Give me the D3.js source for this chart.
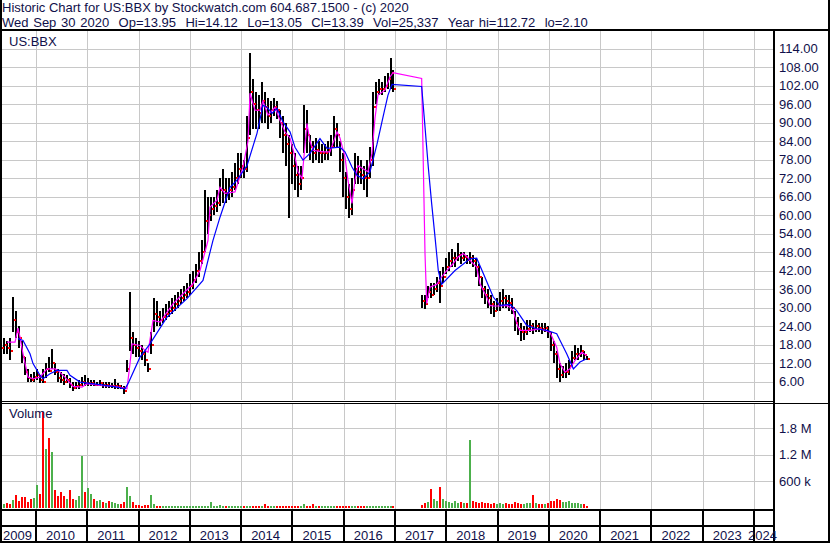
<!DOCTYPE html>
<html><head><meta charset="utf-8">
<script src="https://cdn.jsdelivr.net/npm/d3@7"></script>
<style>
body{margin:0;background:#fff}
svg{display:block}
text{font-family:"Liberation Sans",Arial,sans-serif;fill:#10104a;font-size:13px}
</style>
</head><body><svg id="c" width="830" height="543"></svg>
<script>
// ---------- DATA ----------
const headerLine1 = "Historic Chart for US:BBX by Stockwatch.com 604.687.1500 - (c) 2020";
const headerLine2 = "Wed Sep 30 2020  Op=13.95  Hi=14.12  Lo=13.05  Cl=13.39  Vol=25,337  Year hi=112.72  lo=2.10";
const symbolLabel = "US:BBX";
const volumeLabel = "Volume";

const dates = [
2009.318,2009.376,2009.435,2009.493,2009.552,2009.610,2009.669,2009.727,2009.786,2009.844,2009.903,2009.961,
2010.019,2010.078,2010.136,2010.195,2010.253,2010.312,2010.370,2010.429,2010.487,2010.546,2010.604,2010.663,2010.721,2010.780,2010.838,2010.897,2010.955,
2011.014,2011.072,2011.131,2011.189,2011.248,2011.306,2011.365,2011.423,2011.482,2011.540,2011.599,2011.657,2011.716,2011.774,2011.833,2011.891,2011.950,
2012.008,2012.067,2012.125,2012.184,2012.242,2012.301,2012.359,2012.418,2012.476,2012.535,2012.593,2012.652,2012.710,2012.769,2012.827,2012.886,2012.944,
2013.003,2013.061,2013.120,2013.178,2013.237,2013.295,2013.354,2013.412,2013.471,2013.529,2013.588,2013.646,2013.705,2013.763,2013.822,2013.880,2013.939,2013.997,
2014.056,2014.114,2014.173,2014.231,2014.290,2014.348,2014.407,2014.465,2014.524,2014.582,2014.641,2014.699,2014.758,2014.816,2014.875,2014.933,2014.992,
2015.050,2015.109,2015.167,2015.226,2015.284,2015.342,2015.401,2015.459,2015.518,2015.576,2015.635,2015.693,2015.752,2015.810,2015.869,2015.927,2015.986,
2016.044,2016.103,2016.161,2016.220,2016.278,2016.337,2016.395,2016.454,2016.512,2016.571,2016.629,2016.688,2016.746,2016.805,2016.863,2016.922,2016.961,
2017.526,2017.585,2017.643,2017.702,2017.760,2017.819,2017.877,2017.936,2017.994,
2018.053,2018.111,2018.170,2018.228,2018.287,2018.345,2018.404,2018.462,2018.521,2018.579,2018.638,2018.696,2018.755,2018.813,2018.872,2018.930,2018.989,
2019.047,2019.106,2019.164,2019.223,2019.281,2019.340,2019.398,2019.457,2019.515,2019.574,2019.632,2019.691,2019.749,2019.808,2019.866,2019.925,2019.983,
2020.042,2020.100,2020.159,2020.217,2020.276,2020.334,2020.393,2020.451,2020.510,2020.568,2020.627,2020.685,2020.743
];
const highs = [
21,20,19,20,33.5,29,24,19,14,10,8.5,9,
10,8,10,12,14,16.4,12,10,9,8.5,8,7,6,6,6.5,7.5,8,
7,6.5,6.5,6,6.5,6,6,6,5.5,6.8,5.5,5,4.5,13,35,22,20,
19,18,16,12,22,33,32,29,30,31,32,33,34,35,36,37,38,
41,42,44,48,52,68,66,66,66,68,72,75,72,72,74,77,80,80,
78,92,112.7,104,100,99,103,100,98,97,98,97,94,92,90,86,83,
80,76,76,95.6,94,86,84,85,84,83,83,84,86,92,90,84,80,
74,70,72,80,79,78,76,78,82,100,103,104,103,105,106,111,107,
34,34,37,38,38,40,42,43,46,
48,49,48,50.8,48,48,47,48,47,46,44,40,37,36,34,32,33,
35,36,34,34,33,29,27,25,24,26,26,25,26,25,25,25,24,
22,19,16,12,11,12,13,16,18,17,18,16,14.12
];
const lows = [
14,15,15,13,22,20,17,12,8,6,6,6,
6.5,5.5,5.5,7,9,10,8,6,5.5,5,5.5,4,3,3.5,3.5,4.5,4.5,
4.5,4.5,4.5,4.5,4.5,4,4,4,4,3.5,3.5,3.5,2.1,9,16,15,14,
14,13,11,9,15,22,24,24,25,26,27,28,29,30,31,32,33,
34,36,38,40,44,48,54,58,60,61,63,64,64,65,66,68,70,72,
72,74,86,88,88,88,90,90,88,90,92,91,85,80,76,59,70,
68,66,68,80,80,78,77,78,77,77,78,78,79,82,82,74,66,
62,59,60,70,70,70,68,66,72,76,96,99,99,100,101,101,100,
30,29.5,33,33,34,35,31.6,38,41,
42,43,43,45,44,45,44,44,43,40,37,33,31,30,28,27,29,
29,30,30,29,28,22.5,21,19,19.5,21,22,21.5,22,22,21.5,22,20,
16,12,7,5.8,7,7,8,11,13,13,14,13,13.05
];
const closes = [
17,18,17,16,26,22,20,14,9,7,6.5,7.5,
8,6.5,6,10,9.5,12,9,7,6.5,6,6.5,5,4,4.5,5,6,5.5,
5.5,5.5,5,5,5.5,5,5,4.5,4.5,4.5,4.5,4,3,10,20,18,17,
16,15,13,10,18,28,27,26,27,28,29,30,31,32,33,34,35,
37,39,42,45,48,58,60,62,63,64,68,68,67,68,69,72,75,76,
75,85,100,96,94,93,97,95,92,94,95,94,90,86,83,80,76,
73,70,72,88,86,82,80,81,80,80,80,81,82,88,86,78,72,
66,62,68,75,74,73,72,72,78,95,100,101,101,102,104,106,101,
32,31,35,34,36,38,37,40,43,
45,46,46,47,46,46.5,45.5,46,45,43,40,36,34,33,31,29,31,
32,33,32,31.5,30,25,23,22,22,23,24,23,24,23.5,23,23.5,22,
18,15,10,8,9,9,11,13.5,15,15,16,14.5,13.39
];
// volume in thousands of shares
const volumesK = [
60,90,110,80,180,290,150,230,230,130,190,210,
500,300,2170,1330,1570,1260,400,250,350,250,200,400,200,180,250,1160,350,
450,300,200,150,180,120,100,150,120,100,80,90,120,460,250,120,60,
50,40,60,60,290,80,40,30,30,35,30,30,30,30,30,30,30,
30,30,35,30,30,40,30,130,30,30,60,30,30,30,30,30,30,30,
30,30,40,30,30,30,30,80,30,30,30,30,30,30,30,30,30,
30,30,30,80,30,30,80,30,30,30,30,30,30,30,30,30,30,
30,30,30,40,30,30,30,30,30,30,40,30,30,30,30,30,30,
60,100,120,420,200,150,470,200,150,
120,100,150,110,120,100,110,1530,150,130,100,120,100,100,90,110,80,
100,90,100,90,80,120,100,90,80,100,110,290,100,90,80,90,100,
140,150,200,180,130,120,140,110,100,100,90,80,25
];

// short moving average (magenta)
const maFastDates = [2009.435,2009.591,2009.649,2009.688,2009.747,2009.844,2009.942,2010.078,2010.214,2010.370,2010.429,2010.565,2010.721,2010.897,2010.994,2011.248,2011.540,2011.774,2011.833,2011.872,2012.028,2012.125,2012.184,2012.281,2012.418,2012.671,2013.061,2013.198,2013.295,2013.354,2013.393,2013.529,2013.588,2013.685,2013.880,2014.036,2014.134,2014.173,2014.270,2014.368,2014.426,2014.524,2014.660,2014.758,2014.855,2014.953,2015.050,2015.109,2015.186,2015.284,2015.342,2015.401,2015.596,2015.732,2015.869,2015.927,2016.025,2016.083,2016.161,2016.220,2016.278,2016.376,2016.473,2016.551,2016.610,2016.668,2016.805,2016.902,2016.961,2017.520,2017.585,2017.618,2017.682,2017.813,2017.910,2018.008,2018.131,2018.228,2018.332,2018.404,2018.495,2018.593,2018.657,2018.788,2018.852,2018.916,2019.047,2019.178,2019.242,2019.306,2019.340,2019.404,2019.437,2019.632,2019.827,2020.022,2020.153,2020.217,2020.314,2020.412,2020.509,2020.640,2020.738];
const maFastValues = [18.8,18.8,23.3,20.4,15,7.4,6.9,7.4,10.1,10.1,9.6,7.4,4.4,4.2,5.3,4.7,4.4,3.6,11.8,18.2,17.7,16.1,15.5,25.8,25.3,31.2,37.7,42,48,51.8,62.6,64.8,69,67,67.5,75.6,84,99.5,94,94,97,92.4,95,90.7,87,85,78.8,74,71.8,89.7,84,81,80.5,80.5,87,85,78.8,71.3,63.8,71.3,76,75,74,80,91.4,98.9,100.5,104.8,106.2,104.3,47.5,31.3,36.6,37.5,39.9,42,44.2,46.4,47.5,46.5,44.7,43.1,37.7,33.4,30.7,30.5,30.5,30.7,30.1,29,26.9,23.5,22.6,22.6,23.1,22,17.1,11.8,9,10.1,12.8,15.5,14.4];

// long moving average (blue)
const maSlowDates = [2009.649,2009.747,2009.883,2009.942,2010.078,2010.136,2010.273,2010.409,2010.604,2010.663,2010.858,2011.248,2011.579,2011.735,2011.794,2012.028,2012.223,2012.554,2012.944,2013.256,2013.451,2013.588,2013.783,2013.919,2014.114,2014.309,2014.426,2014.504,2014.602,2014.699,2014.816,2014.953,2015.050,2015.206,2015.342,2015.537,2015.674,2015.927,2016.025,2016.161,2016.259,2016.376,2016.512,2016.649,2016.766,2016.863,2016.941,2017.520,2017.585,2017.649,2017.715,2017.780,2017.844,2017.910,2018.170,2018.462,2018.593,2018.722,2018.916,2019.047,2019.242,2019.373,2019.568,2019.763,2019.958,2020.153,2020.348,2020.478,2020.607,2020.738];
const maSlowValues = [19.9,19.3,15,11.8,8,6.9,8.5,9.6,9.6,8,5.8,5,4.2,3.6,5.3,13.9,18.2,26.9,32.9,38.8,51.8,59.3,69,71.3,76,86.5,95.6,95,93,94.6,90.2,87,82,77.8,80,84.8,81.6,82,80.5,75.6,72.9,71.8,74,83,91.8,98.9,102.4,101.7,88.6,75.6,63.7,52.9,42,37.5,42,45.8,46,41,33.4,30.7,31,29,24.2,23.1,22.6,21.5,15,10.1,12.3,13.4];

const priceTicks = [6,12,18,24,30,36,42,48,54,60,66,72,78,84,90,96,102,108,114];
const volumeTicksK = [600,1200,1800];
const volumeTickLabels = ["600 k","1.2 M","1.8 M"];
const years = [2009,2010,2011,2012,2013,2014,2015,2016,2017,2018,2019,2020,2021,2022,2023,2024];

// ---------- LAYOUT ----------
const svg = d3.select("#c");
const W = 830, H = 543;
const axisX = 774;
const priceTop = 31, priceBottom = 400;
const volTop = 404, volBottom = 509.5;
const x = d3.scaleLinear().domain([2010, 2024]).range([36, 754]);
const y = d3.scaleLinear().domain([0, 119.7]).range([400, 31]);
const yv = d3.scaleLinear().domain([0, 600]).range([507.5, 481]);
const gridColor = "#c8c8c8";

svg.append("rect").attr("width", W).attr("height", H).attr("fill", "#fff");

// header text
svg.append("text").attr("x", 2).attr("y", 11.5).style("white-space", "pre").text(headerLine1);
svg.append("text").attr("x", 2).attr("y", 26.5).style("white-space", "pre")
  .style("word-spacing", "1.1px").text(headerLine2);

const grid = svg.append("g").attr("shape-rendering", "crispEdges").attr("stroke", gridColor).attr("stroke-width", 1);
years.filter(yr => x(yr) > 2 && x(yr) < axisX).forEach(yr => {
  const xx = Math.round(x(yr)) + 0.5;
  grid.append("line").attr("x1", xx).attr("x2", xx).attr("y1", priceTop).attr("y2", priceBottom);
  grid.append("line").attr("x1", xx).attr("x2", xx).attr("y1", volTop).attr("y2", volBottom);
});
priceTicks.forEach(p => {
  const yy = Math.round(y(p)) + 0.5;
  grid.append("line").attr("x1", 2).attr("x2", axisX).attr("y1", yy).attr("y2", yy);
});
volumeTicksK.forEach(v => {
  const yy = Math.round(yv(v)) + 0.5;
  grid.append("line").attr("x1", 2).attr("x2", axisX).attr("y1", yy).attr("y2", yy);
});

// price bars
const idx = d3.range(dates.length);
svg.append("clipPath").attr("id", "pc").append("rect")
  .attr("x", 2).attr("y", priceTop).attr("width", axisX - 3).attr("height", priceBottom - priceTop);
const pg = svg.append("g").attr("clip-path", "url(#pc)").attr("shape-rendering", "crispEdges");
pg.selectAll("rect.bar").data(idx).join("rect").attr("class", "bar")
  .attr("x", i => Math.round(x(dates[i])) - 1)
  .attr("width", 2)
  .attr("y", i => Math.round(y(highs[i])))
  .attr("height", i => Math.max(1, Math.round(y(lows[i])) - Math.round(y(highs[i]))))
  .attr("fill", "#000");
pg.selectAll("rect.cl").data(idx).join("rect").attr("class", "cl")
  .attr("x", i => Math.round(x(dates[i])) + 1)
  .attr("width", 2)
  .attr("y", i => Math.round(y(closes[i])) - 1)
  .attr("height", 2)
  .attr("fill", "#ff0000");

// moving averages
const lineFn = (ds, vs) => d3.line().x(i => x(ds[i])).y(i => y(vs[i]))(d3.range(ds.length));
svg.append("path").attr("clip-path", "url(#pc)").attr("d", lineFn(maFastDates, maFastValues))
  .attr("fill", "none").attr("stroke", "#ff00ff").attr("stroke-width", 1.2);
svg.append("path").attr("clip-path", "url(#pc)").attr("d", lineFn(maSlowDates, maSlowValues))
  .attr("fill", "none").attr("stroke", "#0000ff").attr("stroke-width", 1.2);

// volume bars
svg.append("g").attr("shape-rendering", "crispEdges").selectAll("rect").data(idx).join("rect")
  .attr("x", i => Math.round(x(dates[i])) - 1)
  .attr("width", 2)
  .attr("y", i => yv(volumesK[i]))
  .attr("height", i => yv(0) - yv(volumesK[i]))
  .attr("fill", i => (i === 0 || closes[i] >= closes[i - 1]) ? "#4cb04c" : "#ff0000");

// frame lines
const fr = svg.append("g").attr("shape-rendering", "crispEdges").attr("stroke", "#000");
fr.append("line").attr("x1", 0).attr("x2", W).attr("y1", 30).attr("y2", 30).attr("stroke-width", 2);
fr.append("line").attr("x1", 1).attr("x2", 1).attr("y1", 0).attr("y2", H).attr("stroke-width", 2);
fr.append("line").attr("x1", W - 1).attr("x2", W - 1).attr("y1", 0).attr("y2", H).attr("stroke-width", 2);
fr.append("line").attr("x1", 0).attr("x2", W).attr("y1", H - 1.5).attr("y2", H - 1.5).attr("stroke-width", 2);
fr.append("line").attr("x1", axisX).attr("x2", axisX).attr("y1", 30).attr("y2", H).attr("stroke-width", 2);
fr.append("line").attr("x1", 0).attr("x2", axisX).attr("y1", 401.5).attr("y2", 401.5).attr("stroke-width", 1);
fr.append("line").attr("x1", 0).attr("x2", W).attr("y1", 403.5).attr("y2", 403.5).attr("stroke-width", 1);
fr.append("line").attr("x1", 0).attr("x2", axisX).attr("y1", 510).attr("y2", 510).attr("stroke-width", 2);
fr.append("line").attr("x1", 0).attr("x2", axisX).attr("y1", 526).attr("y2", 526).attr("stroke-width", 2);
years.filter(yr => x(yr) > 2 && x(yr) < axisX).forEach(yr => {
  const xx = Math.round(x(yr));
  fr.append("line").attr("x1", xx).attr("x2", xx).attr("y1", 510).attr("y2", H).attr("stroke-width", 2);
});

// panel labels
svg.append("text").attr("x", 9).attr("y", 45.5).text(symbolLabel);
svg.append("text").attr("x", 9).attr("y", 418).text(volumeLabel);

// right axis labels
priceTicks.forEach(p => {
  svg.append("text").attr("x", 779).attr("y", y(p) + 4.5).text(p.toFixed(2));
});
volumeTicksK.forEach((v, k) => {
  svg.append("text").attr("x", 779).attr("y", yv(v) + 4.5).text(volumeTickLabels[k]);
});

// year labels
years.forEach(yr => {
  const t = svg.append("text").attr("y", 539.5).text(String(yr));
  const w = t.node().getComputedTextLength();
  let lx = x(yr) + 10;
  lx = Math.max(3, Math.min(lx, 777 - w));
  t.attr("x", lx);
});
</script>
</body></html>
